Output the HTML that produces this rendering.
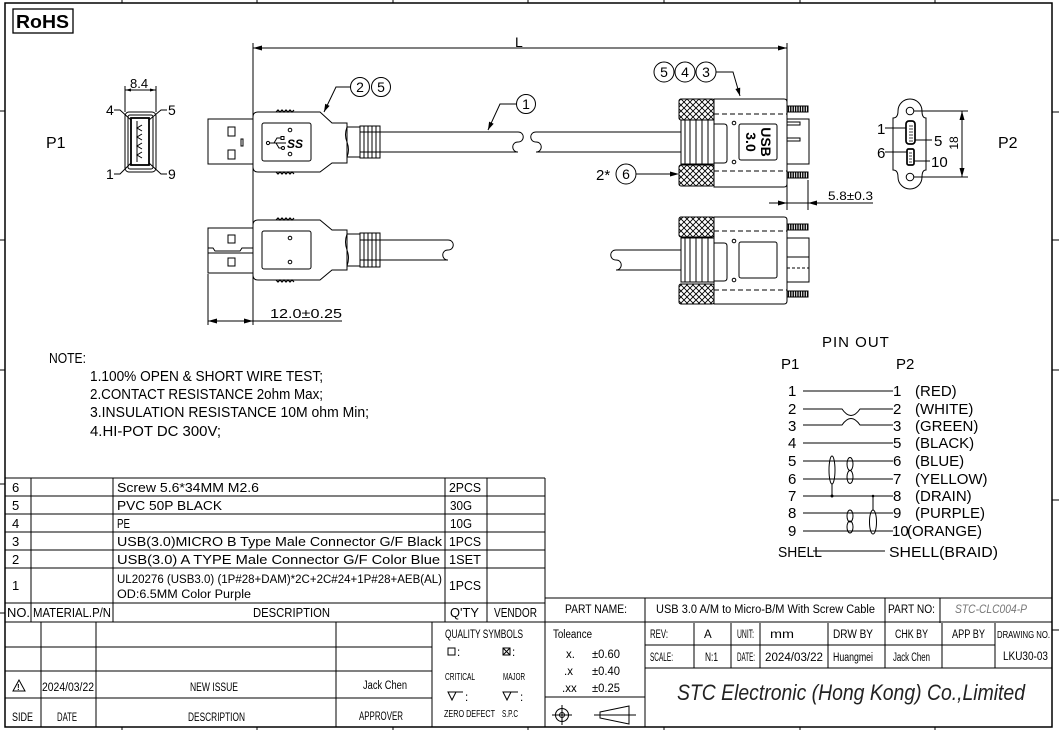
<!DOCTYPE html>
<html><head><meta charset="utf-8"><style>
html,body{margin:0;padding:0;background:#fff;}
svg{display:block;}
text{font-family:"Liberation Sans",sans-serif;fill:#000;}
</style></head><body>
<svg width="1059" height="730" viewBox="0 0 1059 730" xmlns="http://www.w3.org/2000/svg">
<defs>
<pattern id="xh" width="6" height="6" patternUnits="userSpaceOnUse"><path d="M0,0L6,6M6,0L0,6" stroke="#000" stroke-width="0.9"/></pattern>
<pattern id="th" width="2.4" height="10" patternUnits="userSpaceOnUse"><rect width="2.4" height="10" fill="#fff"/><path d="M1.2,0L1.2,10" stroke="#000" stroke-width="1.4"/></pattern>
</defs>
<rect width="1059" height="730" fill="#fff"/>

<!-- frame -->
<g fill="none" stroke="#000" stroke-width="1">
<rect x="5" y="3" width="1047" height="724" stroke-width="1.5"/>
<path d="M122,0V3M257,0V3M393,0V3M528,0V3M664,0V3M800,0V3M935,0V3"/>
<path d="M122,727V730M257,727V730M393,727V730M528,727V730M664,727V730M800,727V730M935,727V730"/>
<path d="M0,111H5M0,240H5M0,370H5M0,484H5M0,613H5"/>
<path d="M1052,112H1059M1052,240H1059M1052,370H1059M1052,500H1059M1052,630H1059"/>
</g>
<g font-size="13">
<text x="50" y="739">8</text><text x="186" y="739">7</text><text x="321" y="739">6</text><text x="457" y="739">5</text><text x="592" y="739">4</text><text x="728" y="739">3</text><text x="863" y="739">2</text><text x="999" y="739">1</text>
</g>

<!-- RoHS -->
<rect x="13" y="9" width="60" height="24" fill="none" stroke="#000" stroke-width="1.3"/>
<text x="16" y="28" font-size="18" font-weight="bold" textLength="53" lengthAdjust="spacingAndGlyphs">RoHS</text>

<g fill="none" stroke="#000" stroke-width="1">
<!-- L dimension -->
<line x1="253" y1="43" x2="253" y2="325"/>
<line x1="787" y1="43" x2="787" y2="210"/>
<line x1="253" y1="48" x2="787" y2="48"/>
<!-- 8.4 -->
<path d="M125,86V112M156,86V112M125,90H156"/>
<!-- P1 front -->
<rect x="125" y="112" width="31" height="60" rx="4"/>
<rect x="128" y="115" width="25" height="54" rx="2"/>
<rect x="131" y="118" width="18" height="47" stroke-width="1.8"/>
<line x1="137" y1="121" x2="137" y2="162"/>
<path d="M142,125L137,128L142,131M142,134L137,137L142,140M142,143L137,146L142,149M142,152L137,155L142,158"/>
<path d="M114,110H120L131,120M167,110H161L149,120M114,174H120L131,163M167,174H161L149,163"/>

<!-- USB A top -->
<rect x="208" y="119" width="45" height="45"/>
<rect x="228" y="127" width="7" height="9"/>
<rect x="228" y="150" width="7" height="9"/>
<rect x="241" y="139" width="2" height="7"/>
<path d="M253,117Q253,112 258,112H320L332,123H347V163H332L320,172H258Q253,172 253,167Z"/>
<rect x="262" y="123" width="49" height="38" rx="2"/>
<circle cx="290" cy="130" r="1.8"/><circle cx="290" cy="154" r="1.8"/>
<path d="M276,112L278,110L280,112L282,110L284,112L286,110L288,112L290,110L292,112L294,110" stroke-width="1.2"/>
<path d="M276,172L278,174L280,172L282,174L284,172L286,174L288,172L290,174L292,172L294,174" stroke-width="1.2"/>
<circle cx="268" cy="143" r="1.6"/>
<path d="M269.6,143H286M274,143L277,138H281M276,143L279,148H281"/>
<rect x="281" y="136.5" width="3" height="3"/><circle cx="283" cy="148" r="1.5"/>
<path d="M347,127Q344,135 347,142Q350,150 347,157"/>
<rect x="347" y="127" width="13" height="30"/>
<rect x="360" y="126" width="20" height="32"/>
<path d="M364,126V158M368,126V158M372,126V158M376,126V158M360,132H380M360,152H380"/>
<path d="M380,132H518M380,152H518"/>
<path d="M518,132C525,132 525,142 518,142C511,142 511,152 518,152"/>
<path d="M536,132C529,132 529,142 536,142C543,142 543,152 536,152"/>
<path d="M536,132H681M536,152H681"/>

<!-- USB A bottom -->
<rect x="208" y="228" width="45" height="45"/>
<path d="M208,248H213L215,251H240L242,248H253M208,253H253"/>
<rect x="228" y="235" width="7" height="8"/>
<rect x="228" y="258" width="7" height="8"/>
<path d="M253,225Q253,220 258,220H320L332,230H347V270H332L320,280H258Q253,280 253,275Z"/>
<rect x="262" y="231" width="49" height="38" rx="2"/>
<circle cx="290" cy="238" r="1.8"/><circle cx="290" cy="262" r="1.8"/>
<path d="M276,220L278,218L280,220L282,218L284,220L286,218L288,220L290,218L292,220L294,218" stroke-width="1.2"/>
<path d="M276,280L278,282L280,280L282,282L284,280L286,282L288,280L290,282L292,280L294,282" stroke-width="1.2"/>
<path d="M347,234Q344,242 347,250Q350,258 347,266"/>
<rect x="347" y="234" width="13" height="32"/>
<rect x="360" y="233" width="20" height="34"/>
<path d="M364,233V267M368,233V267M372,233V267M376,233V267M360,240H380M360,260H380"/>
<path d="M380,240H448M380,260H448"/>
<path d="M448,240C455,240 455,250 448,250C441,250 441,260 448,260"/>
<!-- 12.0 dim -->
<path d="M208,274V325M208,321H342"/>

<!-- Micro B top -->
<rect x="679" y="99" width="35" height="21" rx="2" fill="url(#xh)"/>
<rect x="679" y="165" width="35" height="21" rx="2" fill="url(#xh)"/>
<path d="M714,99H784Q787,99 787,102V184Q787,187 784,187H714Z"/>
<path d="M714,124H724Q727,124 727,127V160Q727,163 724,163H714"/>
<path d="M714,114H787M714,171H787" stroke-dasharray="5 3"/>
<rect x="739" y="124" width="38" height="36" rx="2"/>
<circle cx="734" cy="123" r="1.8"/><circle cx="734" cy="162" r="1.8"/>
<rect x="787" y="106" width="21" height="6" fill="url(#th)"/>
<rect x="787" y="172" width="21" height="6" fill="url(#th)"/>
<rect x="787" y="119" width="22" height="45"/>
<rect x="787" y="122" width="13" height="3"/>
<rect x="787" y="138" width="13" height="3"/>
<rect x="681" y="120" width="33" height="44"/>
<path d="M685,120V164M690,120V164M696,120V164M702,120V164M708,120V164"/>

<!-- Micro B bottom -->
<rect x="679" y="217" width="35" height="20" rx="2" fill="url(#xh)"/>
<rect x="679" y="284" width="35" height="20" rx="2" fill="url(#xh)"/>
<path d="M714,217H784Q787,217 787,220V301Q787,304 784,304H714Z"/>
<path d="M714,243H724Q727,243 727,246V278Q727,281 724,281H714"/>
<path d="M714,231H787M714,290H787" stroke-dasharray="5 3"/>
<rect x="739" y="242" width="38" height="36" rx="2"/>
<circle cx="734" cy="241" r="1.8"/><circle cx="734" cy="280" r="1.8"/>
<rect x="787" y="224" width="21" height="6" fill="url(#th)"/>
<rect x="787" y="291" width="21" height="6" fill="url(#th)"/>
<rect x="787" y="238" width="22" height="44"/>
<path d="M787,257H809"/>
<path d="M787,268H809" stroke-dasharray="3 2"/>
<rect x="681" y="238" width="33" height="44"/>
<path d="M685,238V282M690,238V282M696,238V282M702,238V282M708,238V282"/>
<path d="M616,250H681M616,270H681"/>
<path d="M616,250C609,250 609,260 616,260C623,260 623,270 616,270"/>

<!-- balloons -->
<circle cx="526" cy="104" r="9.5"/>
<path d="M516.5,104H500L488,130"/>
<circle cx="360" cy="87" r="9.5"/><circle cx="381" cy="87" r="9.5"/>
<path d="M350.5,87H336L324,112"/>
<circle cx="664" cy="72" r="10"/><circle cx="685" cy="72" r="10"/><circle cx="706" cy="72" r="10"/>
<path d="M716,72H733L740,96"/>
<circle cx="626" cy="174" r="10"/>
<path d="M636,174H677"/>
<!-- 5.8 dim -->
<path d="M808,180V210M769,203H873"/>

<!-- P2 face -->
<path d="M893,170V118Q898,118 898,111A12,12 0 0 1 922,111Q922,118 926,118V170Q922,170 922,177A12,12 0 0 1 898,177Q898,170 893,170Z"/>
<circle cx="910" cy="111" r="3.8"/><circle cx="910" cy="177" r="3.8"/>
<rect x="906" y="121" width="9" height="23" rx="3" stroke-width="1.7"/>
<rect x="907" y="149" width="7" height="16" rx="1.5" stroke-width="1.7"/>
<path d="M909,126H913M909,129H913M909,132H913M909,135H913M909,138H913M909,141H913M909,153H912M909,156H912M909,159H912M909,162H912" stroke-width="0.8"/>
<path d="M885,128H906M915,140H932M885,152H907M914,161H930"/>
<path d="M914,111H968M914,177H968M962,111V177"/>

<!-- pinout -->
<path d="M803,391H893M803,409H842Q851,422 860,409H893M803,425H842Q851,412 860,425H893M803,443H893M803,461H893M803,479H893M803,496H893M803,513H893M803,531H893M813,551H885"/>
<ellipse cx="832" cy="470" rx="3" ry="14"/>
<path d="M832,484V496M873,496V510"/>
<ellipse cx="850" cy="464" rx="3" ry="6.5"/><ellipse cx="850" cy="477" rx="3" ry="6.5"/>
<ellipse cx="850" cy="516" rx="3" ry="6"/><ellipse cx="850" cy="527" rx="3" ry="6"/>
<ellipse cx="873" cy="522" rx="3.5" ry="12"/>
</g>
<circle cx="832" cy="496" r="1.5"/><circle cx="873" cy="496" r="1.3"/>

<!-- arrowheads -->
<g fill="#000">
<polygon points="253,48 262,45.5 262,50.5"/><polygon points="787,48 778,45.5 778,50.5"/>
<polygon points="125,90 131,88.5 131,91.5"/><polygon points="156,90 150,88.5 150,91.5"/>
<polygon points="208,321 217,318.5 217,323.5"/><polygon points="253,321 244,318.5 244,323.5"/>
<polygon points="488,130 493.7,123.7 489.1,121.6"/>
<polygon points="324,112 329.6,105.9 325.2,103.7"/>
<polygon points="740,96 740.2,87.6 735.4,89"/>
<polygon points="679,174 670,171.5 670,176.5"/>
<polygon points="787,203 778,200.5 778,205.5"/><polygon points="808,203 817,200.5 817,205.5"/>
<polygon points="962,111 959.5,120 964.5,120"/><polygon points="962,177 959.5,168 964.5,168"/>
</g>

<!-- drawing texts -->
<text x="515" y="47" font-size="14">L</text>
<text x="46" y="148" font-size="16">P1</text>
<text x="998" y="148" font-size="16">P2</text>
<text x="130" y="88" font-size="13">8.4</text>
<g font-size="14">
<text x="106" y="115">4</text><text x="168" y="115">5</text><text x="106" y="179">1</text><text x="168" y="179">9</text>
</g>
<text x="287" y="148" font-size="12" font-style="italic" font-weight="bold">SS</text>
<text x="270" y="318" font-size="13" textLength="72" lengthAdjust="spacingAndGlyphs">12.0±0.25</text>
<text x="828" y="200" font-size="12" textLength="45" lengthAdjust="spacingAndGlyphs">5.8±0.3</text>
<g font-size="14" text-anchor="middle">
<text x="526" y="109">1</text>
<text x="360" y="92">2</text><text x="381" y="92">5</text>
<text x="664" y="77">5</text><text x="685" y="77">4</text><text x="706" y="77">3</text>
<text x="626" y="179">6</text>
</g>
<text x="596" y="180" font-size="15">2*</text>
<text font-size="14" font-weight="bold" text-anchor="middle" dominant-baseline="central" transform="translate(766,142) rotate(90)">USB</text>
<text font-size="14" font-weight="bold" text-anchor="middle" dominant-baseline="central" transform="translate(751,142) rotate(90)">3.0</text>
<g font-size="15">
<text x="877" y="134">1</text><text x="934" y="146">5</text><text x="877" y="158">6</text><text x="931" y="167">10</text>
</g>
<text font-size="12" text-anchor="middle" transform="translate(958,143) rotate(-90)">18</text>

<!-- pinout text -->
<text x="822" y="347" font-size="15" letter-spacing="1">PIN  OUT</text>
<text x="781" y="369" font-size="15">P1</text>
<text x="896" y="369" font-size="15">P2</text>
<g font-size="15">
<text x="788" y="396">1</text><text x="788" y="414">2</text><text x="788" y="431">3</text><text x="788" y="448">4</text><text x="788" y="466">5</text><text x="788" y="484">6</text><text x="788" y="501">7</text><text x="788" y="518">8</text><text x="788" y="536">9</text>
<text x="893" y="396">1</text><text x="893" y="414">2</text><text x="893" y="431">3</text><text x="893" y="448">5</text><text x="893" y="466">6</text><text x="893" y="484">7</text><text x="893" y="501">8</text><text x="893" y="518">9</text><text x="892" y="536">10</text>
<text x="915" y="396">(RED)</text><text x="915" y="414">(WHITE)</text><text x="915" y="431">(GREEN)</text><text x="915" y="448">(BLACK)</text><text x="915" y="466">(BLUE)</text><text x="915" y="484">(YELLOW)</text><text x="915" y="501">(DRAIN)</text><text x="915" y="518">(PURPLE)</text><text x="907" y="536">(ORANGE)</text>
<text x="778" y="557" textLength="44" lengthAdjust="spacingAndGlyphs">SHELL</text>
<text x="889" y="557" textLength="109" lengthAdjust="spacingAndGlyphs">SHELL(BRAID)</text>
</g>

<!-- notes -->
<g font-size="14.5">
<text x="49" y="363" textLength="37" lengthAdjust="spacingAndGlyphs">NOTE:</text>
<text x="90" y="381" textLength="233" lengthAdjust="spacingAndGlyphs">1.100% OPEN &amp; SHORT WIRE TEST;</text>
<text x="90" y="399" textLength="233" lengthAdjust="spacingAndGlyphs">2.CONTACT RESISTANCE 2ohm Max;</text>
<text x="90" y="417" textLength="279" lengthAdjust="spacingAndGlyphs">3.INSULATION RESISTANCE 10M ohm Min;</text>
<text x="90" y="436" textLength="131" lengthAdjust="spacingAndGlyphs">4.HI-POT DC 300V;</text>
</g>

<!-- BOM table -->
<g fill="none" stroke="#000" stroke-width="1">
<path d="M5,478H545M5,496H545M5,514H545M5,532H545M5,550H545M5,568H545M5,603H545M5,622H1052"/>
<path d="M31,478V622M113,478V622M445,478V622M487,478V622M545,478V727"/>
<!-- lower left title -->
<path d="M5,647H432M5,671H432M5,698H432M41,622V727M96,622V727M336,622V727M432,622V727"/>
<!-- right title -->
<path d="M545,598H1052M645,598V727M885,598V668M940,598V623"/>
<path d="M645,645H995M645,668H1052M545,697H645"/>
<path d="M694,623V668M731,623V668M760,623V668M828,623V668M942,623V668M995,623V668"/>
<rect x="448" y="648" width="7" height="7"/>
<rect x="503" y="648" width="7" height="7"/>
<path d="M503,648L510,655M510,648L503,655"/>
<path d="M448,692H456L452,700Z M456,692H463"/>
<path d="M503,692H511L507,700Z M511,692H518"/>
<path d="M19,680L13,691H25Z"/>
<circle cx="562" cy="715" r="6.5"/><circle cx="562" cy="715" r="2.5"/>
<path d="M552,715H572M562,705V725"/>
<path d="M600,712L629,706V724L600,718Z M594,715H636"/>
</g>
<text x="17" y="690" font-size="8" font-weight="bold">!</text>

<g font-size="13">
<text x="12" y="492">6</text><text x="12" y="510">5</text><text x="12" y="528">4</text><text x="12" y="546">3</text><text x="12" y="564">2</text><text x="12" y="590">1</text>
<text x="117" y="492" textLength="142" lengthAdjust="spacingAndGlyphs">Screw 5.6*34MM M2.6</text>
<text x="117" y="510" textLength="105" lengthAdjust="spacingAndGlyphs">PVC 50P BLACK</text>
<text x="117" y="528" textLength="13" lengthAdjust="spacingAndGlyphs">PE</text>
<text x="117" y="546" textLength="325" lengthAdjust="spacingAndGlyphs">USB(3.0)MICRO B Type Male Connector G/F Black</text>
<text x="117" y="564" textLength="323" lengthAdjust="spacingAndGlyphs">USB(3.0) A TYPE Male Connector G/F Color Blue</text>
<text x="117" y="583" font-size="11.5" textLength="325" lengthAdjust="spacingAndGlyphs">UL20276 (USB3.0) (1P#28+DAM)*2C+2C#24+1P#28+AEB(AL)</text>
<text x="117" y="598" font-size="11.5" textLength="134" lengthAdjust="spacingAndGlyphs">OD:6.5MM Color Purple</text>
<text x="449" y="492" textLength="32" lengthAdjust="spacingAndGlyphs">2PCS</text>
<text x="450" y="510" textLength="22" lengthAdjust="spacingAndGlyphs">30G</text>
<text x="450" y="528" textLength="22" lengthAdjust="spacingAndGlyphs">10G</text>
<text x="449" y="546" textLength="32" lengthAdjust="spacingAndGlyphs">1PCS</text>
<text x="449" y="564" textLength="32" lengthAdjust="spacingAndGlyphs">1SET</text>
<text x="449" y="590" textLength="32" lengthAdjust="spacingAndGlyphs">1PCS</text>
<text x="7" y="617" textLength="23" lengthAdjust="spacingAndGlyphs">NO.</text>
<text x="33" y="617" textLength="78" lengthAdjust="spacingAndGlyphs">MATERIAL.P/N</text>
<text x="253" y="617" textLength="77" lengthAdjust="spacingAndGlyphs">DESCRIPTION</text>
<text x="450" y="617" textLength="29" lengthAdjust="spacingAndGlyphs">Q'TY</text>
<text x="494" y="617" textLength="43" lengthAdjust="spacingAndGlyphs">VENDOR</text>
</g>

<g font-size="11.5">
<text x="42" y="691" textLength="52" lengthAdjust="spacingAndGlyphs">2024/03/22</text>
<text x="190" y="691" textLength="48" lengthAdjust="spacingAndGlyphs">NEW ISSUE</text>
<text x="363" y="689" textLength="44" lengthAdjust="spacingAndGlyphs">Jack Chen</text>
<text x="12" y="721" textLength="21" lengthAdjust="spacingAndGlyphs">SIDE</text>
<text x="57" y="721" textLength="20" lengthAdjust="spacingAndGlyphs">DATE</text>
<text x="188" y="721" textLength="57" lengthAdjust="spacingAndGlyphs">DESCRIPTION</text>
<text x="359" y="720" textLength="44" lengthAdjust="spacingAndGlyphs">APPROVER</text>
<text x="445" y="638" textLength="78" lengthAdjust="spacingAndGlyphs">QUALITY SYMBOLS</text>
<text x="457" y="656">:</text><text x="512" y="656">:</text>
<text x="445" y="680" font-size="10.5" textLength="30" lengthAdjust="spacingAndGlyphs">CRITICAL</text>
<text x="503" y="680" font-size="10.5" textLength="22" lengthAdjust="spacingAndGlyphs">MAJOR</text>
<text x="465" y="701">:</text><text x="520" y="701">:</text>
<text x="444" y="717" font-size="10.5" textLength="51" lengthAdjust="spacingAndGlyphs">ZERO DEFECT</text>
<text x="502" y="717" font-size="10.5" textLength="16" lengthAdjust="spacingAndGlyphs">S.P.C</text>

<text x="565" y="613" textLength="62" lengthAdjust="spacingAndGlyphs">PART    NAME:</text>
<text x="656" y="613" textLength="219" lengthAdjust="spacingAndGlyphs">USB 3.0 A/M to Micro-B/M With Screw Cable</text>
<text x="888" y="613" textLength="47" lengthAdjust="spacingAndGlyphs">PART NO:</text>
<text x="955" y="613" font-style="italic" style="fill:#777" textLength="72" lengthAdjust="spacingAndGlyphs">STC-CLC004-P</text>
<text x="553" y="638" textLength="39" lengthAdjust="spacingAndGlyphs">Toleance</text>
<text x="566" y="658">x.</text><text x="592" y="658" textLength="28" lengthAdjust="spacingAndGlyphs">±0.60</text>
<text x="564" y="675">.x</text><text x="592" y="675" textLength="28" lengthAdjust="spacingAndGlyphs">±0.40</text>
<text x="562" y="692">.xx</text><text x="592" y="692" textLength="28" lengthAdjust="spacingAndGlyphs">±0.25</text>
<text x="650" y="638" textLength="18" lengthAdjust="spacingAndGlyphs">REV:</text>
<text x="704" y="638">A</text>
<text x="737" y="638" textLength="17" lengthAdjust="spacingAndGlyphs">UNIT:</text>
<text x="770" y="638" textLength="24" lengthAdjust="spacingAndGlyphs">mm</text>
<text x="833" y="638" textLength="40" lengthAdjust="spacingAndGlyphs">DRW  BY</text>
<text x="895" y="638" textLength="33" lengthAdjust="spacingAndGlyphs">CHK  BY</text>
<text x="952" y="638" textLength="33" lengthAdjust="spacingAndGlyphs">APP  BY</text>
<text x="997" y="638" font-size="10.5" textLength="53" lengthAdjust="spacingAndGlyphs">DRAWING NO.</text>
<text x="650" y="661" textLength="23" lengthAdjust="spacingAndGlyphs">SCALE:</text>
<text x="705" y="661" textLength="13" lengthAdjust="spacingAndGlyphs">N:1</text>
<text x="737" y="661" textLength="18" lengthAdjust="spacingAndGlyphs">DATE:</text>
<text x="765" y="661" textLength="58" lengthAdjust="spacingAndGlyphs">2024/03/22</text>
<text x="833" y="661" textLength="40" lengthAdjust="spacingAndGlyphs">Huangmei</text>
<text x="893" y="661" textLength="37" lengthAdjust="spacingAndGlyphs">Jack Chen</text>
<text x="1003" y="660" textLength="45" lengthAdjust="spacingAndGlyphs">LKU30-03</text>
</g>
<text x="677" y="700" font-size="22" font-style="italic" style="fill:#222" textLength="348" lengthAdjust="spacingAndGlyphs">STC Electronic (Hong Kong) Co.,Limited</text>
</svg>
</body></html>
